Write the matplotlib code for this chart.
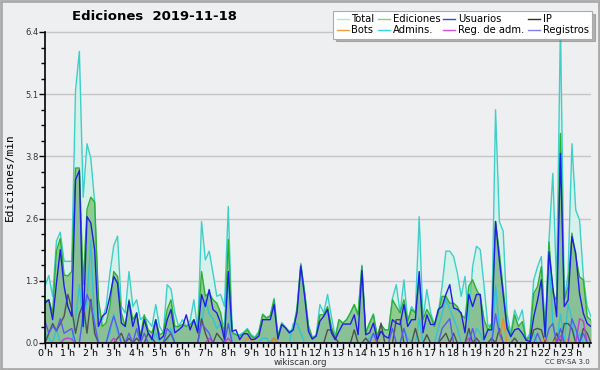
from matplotlib import pyplot as plt
from matplotlib.lines import Line2D
import numpy as np

# values per 10 minutes, 144 bins for the whole day (edits/min)
total = [1.17, 1.39, 0.96, 2.10, 2.28, 1.68, 1.68, 1.68, 5.20, 6.00, 3.00, 4.10,
         3.80, 2.90, 0.50, 0.48, 0.75, 1.44, 2.00, 2.20, 0.75, 0.62, 1.47, 0.75,
         0.89, 0.48, 0.55, 0.45, 0.34, 0.79, 0.34, 0.21, 1.20, 1.11, 0.62, 0.34,
         0.48, 0.34, 0.45, 0.89, 0.27, 2.50, 1.71, 1.89, 1.44, 0.96, 1.00, 0.75,
         2.81, 0.24, 0.17, 0.17, 0.22, 0.30, 0.17, 0.12, 0.24, 0.60, 0.52, 0.57,
         0.92, 0.16, 0.42, 0.33, 0.24, 0.30, 0.72, 1.64, 1.05, 0.36, 0.12, 0.16,
         0.79, 0.62, 1.00, 0.55, 0.14, 0.48, 0.41, 0.48, 0.62, 0.79, 0.58, 1.60,
         0.21, 0.41, 0.60, 0.14, 0.38, 0.27, 0.27, 0.92, 1.20, 0.62, 1.30, 0.45,
         0.75, 0.62, 2.60, 0.48, 1.10, 0.62, 0.38, 0.62, 1.17, 1.89, 1.89, 1.78,
         1.44, 0.96, 1.37, 0.48, 1.58, 1.99, 1.92, 1.17, 0.34, 0.40, 4.80, 2.50,
         2.30, 0.60, 0.20, 0.68, 0.47, 0.68, 0.06, 0.20, 1.30, 1.57, 1.78, 0.20,
         2.12, 3.49, 1.16, 6.60, 0.89, 1.43, 4.10, 2.74, 2.53, 1.36, 0.75, 0.54]

ediciones = [0.86, 0.89, 0.62, 1.90, 2.15, 1.40, 1.38, 1.47, 3.60, 3.60, 1.20, 2.75,
             3.00, 2.90, 0.90, 0.34, 0.41, 0.75, 1.47, 1.37, 0.62, 0.34, 0.89, 0.48,
             0.62, 0.14, 0.58, 0.27, 0.21, 0.48, 0.17, 0.21, 0.69, 0.89, 0.34, 0.34,
             0.38, 0.34, 0.38, 0.48, 0.27, 1.47, 0.96, 1.03, 0.89, 0.82, 0.62, 0.14,
             2.13, 0.21, 0.17, 0.14, 0.19, 0.27, 0.14, 0.10, 0.21, 0.58, 0.51, 0.55,
             0.89, 0.14, 0.39, 0.31, 0.21, 0.27, 0.69, 1.61, 1.03, 0.34, 0.10, 0.14,
             0.58, 0.58, 0.75, 0.34, 0.07, 0.48, 0.41, 0.48, 0.62, 0.79, 0.58, 1.58,
             0.21, 0.41, 0.58, 0.14, 0.38, 0.27, 0.27, 0.89, 0.75, 0.62, 0.89, 0.45,
             0.69, 0.62, 1.30, 0.48, 0.69, 0.55, 0.34, 0.62, 0.96, 0.96, 0.82, 0.82,
             0.75, 0.58, 0.51, 1.17, 1.30, 1.10, 0.96, 0.48, 0.27, 0.38, 2.50, 1.85,
             1.10, 0.40, 0.13, 0.58, 0.34, 0.44, 0.06, 0.13, 1.02, 1.16, 1.57, 0.20,
             2.08, 1.02, 0.88, 4.31, 0.88, 1.16, 2.26, 1.78, 1.36, 1.30, 0.54, 0.47]

usuarios = [0.82, 0.89, 0.48, 1.23, 1.92, 1.17, 0.75, 0.55, 3.36, 3.55, 0.34, 2.60,
            2.47, 1.92, 0.34, 0.55, 0.62, 0.96, 1.37, 1.23, 0.41, 0.34, 0.86, 0.34,
            0.62, 0.07, 0.48, 0.21, 0.07, 0.48, 0.07, 0.14, 0.48, 0.69, 0.21, 0.27,
            0.34, 0.58, 0.27, 0.48, 0.21, 1.00, 0.75, 1.10, 0.69, 0.62, 0.41, 0.07,
            1.47, 0.24, 0.27, 0.07, 0.19, 0.19, 0.07, 0.08, 0.14, 0.48, 0.48, 0.48,
            0.79, 0.08, 0.38, 0.31, 0.21, 0.27, 0.62, 1.58, 0.96, 0.24, 0.08, 0.14,
            0.45, 0.55, 0.69, 0.21, 0.07, 0.24, 0.39, 0.39, 0.39, 0.58, 0.17, 1.49,
            0.17, 0.21, 0.41, 0.07, 0.24, 0.14, 0.10, 0.48, 0.41, 0.38, 0.79, 0.34,
            0.48, 0.48, 1.47, 0.21, 0.58, 0.38, 0.38, 0.69, 0.75, 1.00, 1.20, 0.72,
            0.69, 0.62, 0.21, 1.00, 0.75, 1.00, 1.00, 0.07, 0.27, 0.27, 2.50, 1.70,
            1.00, 0.30, 0.13, 0.27, 0.30, 0.20, 0.06, 0.03, 0.54, 0.88, 1.30, 0.13,
            1.88, 1.16, 0.54, 3.90, 0.75, 0.88, 2.19, 1.85, 1.02, 0.61, 0.40, 0.34]

# sparse series: bin index -> value, zero elsewhere
ip_idx = [1, 2, 3, 4, 5, 6, 7, 8, 9, 10, 11, 12, 13, 19, 20, 22, 24, 27, 28, 32, 33, 41, 42,
          45, 46, 60, 74, 75, 76, 81, 84, 88, 92, 93, 97, 100, 104, 105, 107, 111, 113, 117,
          119, 123, 128, 129, 130, 134, 136, 137, 138, 141, 142]
ip_val = [0.2, 0.4, 0.25, 0.4, 0.55, 1.0, 0.7, 0.2, 0.6, 0.8, 0.2, 0.9, 0.2, 0.1, 0.2, 0.1, 0.1,
          0.2, 0.1, 0.1, 0.2, 0.5, 0.2, 0.2, 0.1, 0.1, 0.27, 0.27, 0.1, 0.27, 0.1, 0.41, 0.48,
          0.48, 0.3, 0.17, 0.1, 0.2, 0.2, 0.3, 0.1, 0.1, 0.3, 0.1, 0.27, 0.3, 0.27, 0.2, 0.4,
          0.4, 0.3, 0.3, 0.2]

admins_idx = [0, 1, 3, 8, 9, 10, 11, 12, 13, 17, 18, 19, 29, 33, 41, 42, 43, 44, 45, 46, 47, 48,
              57, 58, 65, 66, 67, 85, 86, 94, 95, 98, 103, 104, 105, 106, 107, 108, 111, 113,
              114, 118, 119, 128, 132, 133, 135, 137, 138, 140]
admins_val = [0.2, 0.1, 0.3, 0.5, 1.2, 0.3, 0.9, 2.1, 0.3, 0.2, 0.6, 0.2, 0.2, 0.3, 0.4, 0.9,
              0.6, 0.5, 0.3, 0.4, 0.4, 1.3, 0.1, 0.1, 0.4, 0.4, 0.2, 0.1, 0.2, 0.3, 0.1, 0.5,
              0.3, 0.6, 0.9, 0.7, 0.5, 0.3, 0.2, 0.3, 0.2, 1.2, 0.3, 0.2, 1.9, 0.4, 0.6, 0.8,
              0.5, 0.2]

registros_idx = [0, 1, 2, 3, 4, 5, 6, 7, 10, 11, 12, 13, 17, 18, 19, 22, 24, 26, 32, 33, 41, 42,
                 43, 48, 86, 91, 94, 104, 105, 106, 112, 118, 119, 129, 132, 133, 135, 138,
                 139, 141]
registros_val = [0.45, 0.2, 0.35, 0.25, 0.5, 0.2, 0.25, 0.3, 0.6, 1.0, 0.8, 0.4, 0.3, 0.55,
                 0.3, 0.2, 0.3, 0.2, 0.3, 0.2, 0.4, 0.3, 0.2, 0.4, 0.2, 0.3, 0.3, 0.3, 0.4,
                 0.5, 0.3, 0.6, 0.2, 0.2, 0.3, 0.4, 0.3, 0.5, 0.3, 0.2]

bots_idx = [53, 54, 60, 87, 120, 131, 134, 137]
bots_val = [0.1, 0.1, 0.1, 0.1, 0.5, 0.1, 0.1, 0.1]

regadm_idx = [5, 6, 7, 18, 43, 48, 111, 135, 140, 141]
regadm_val = [0.08, 0.1, 0.08, 0.1, 0.1, 0.1, 0.1, 0.15, 0.5, 0.45]

hour_labels = ['%d h' % h for h in range(24)]
ytick_vals = [0, 1.28, 2.56, 3.84, 5.12, 6.4]
ytick_labels = ['0.0', '1.3', '2.6', '3.8', '5.1', '6.4']


def sparse(idx, val, n=144):
    arr = np.zeros(n)
    arr[idx] = val
    return arr


bg = '#eeeff1'
x = np.arange(len(total))
ip = sparse(ip_idx, ip_val)
admins = sparse(admins_idx, admins_val)
registros = sparse(registros_idx, registros_val)
bots = sparse(bots_idx, bots_val)
regadm = sparse(regadm_idx, regadm_val)

plt.rcParams['font.family'] = ['DejaVu Sans']
fig = plt.figure(figsize=(6, 3.7), dpi=100, facecolor=bg)
ax = fig.add_axes([45 / 600, 1 - 343 / 370, 546 / 600, 338 / 370], facecolor=bg)

# filled areas
ax.fill_between(x, total, color='#d6f1ea', lw=0)
ax.fill_between(x, ediciones, color='#92cb92', lw=0)
ax.fill_between(x, usuarios, color='#5a7ab8', alpha=0.13, lw=0)

lw = 1.0
ax.plot(x, total, color='#3dd0c8', lw=lw)
ax.plot(x, ediciones, color='#2faf2f', lw=lw)
ax.plot(x, admins, color='#30c4d8', lw=lw)
ax.plot(x, ip, color='#505050', lw=lw)
ax.plot(x, bots, color='#f09020', lw=lw)
ax.plot(x, regadm, color='#c040d8', lw=lw)
ax.plot(x, registros, color='#5a5af0', lw=lw)
ax.plot(x, usuarios, color='#1e1ee6', lw=lw)

ax.set_xlim(0, 143)
ax.set_ylim(0, (343 - 5) / 48.6)
for s in ['top', 'right']:
    ax.spines[s].set_visible(False)
ax.spines['left'].set_bounds(0, 6.4)
ax.spines['left'].set_linewidth(1.2)
ax.spines['bottom'].set_linewidth(1.2)

ax.set_yticks(ytick_vals)
ax.set_yticklabels(ytick_labels, fontsize=6, color='#333333')
ax.set_yticks(np.arange(0, 6.41, 0.32), minor=True)
ax.set_xticks(np.arange(0, 144, 6))
ax.set_xticklabels(hour_labels, fontsize=6.8)
ax.set_xticks(np.arange(0, 144, 1.5), minor=True)
ax.tick_params(axis='both', which='major', length=4, width=1, pad=0.5)
ax.tick_params(axis='both', which='minor', length=3, width=1)
ax.yaxis.grid(True, which='major', color='#c6c6c6', lw=1)
ax.set_axisbelow(True)

ax.set_ylabel('Ediciones/min', fontsize=8, family='DejaVu Sans Mono')
ax.yaxis.set_label_coords(-0.056, 0.49)

fig.text(154 / 600, 1 - 16 / 370, 'Ediciones  2019-11-18', fontsize=9.5, fontweight='bold',
         ha='center', va='center')
fig.text(300 / 600, 1 - 362.5 / 370, 'wikiscan.org', fontsize=6.2, color='#333333',
         ha='center', va='center')
fig.text(590 / 600, 1 - 362.5 / 370, 'CC BY-SA 3.0', fontsize=5, color='#333333',
         ha='right', va='center')

handles = [Line2D([], [], color='#a8e8e0', lw=1), Line2D([], [], color='#f0a040', lw=1),
           Line2D([], [], color='#80d080', lw=1), Line2D([], [], color='#40d0e0', lw=1),
           Line2D([], [], color='#4040e0', lw=1), Line2D([], [], color='#d050e0', lw=1),
           Line2D([], [], color='#303030', lw=1), Line2D([], [], color='#8080f0', lw=1)]
labels = ['Total', 'Bots', 'Ediciones', 'Admins.', 'Usuarios', 'Reg. de adm.', 'IP', 'Registros']
leg = fig.legend(handles, labels, ncol=4, loc='upper right', bbox_to_anchor=(592 / 600, 1 - 11 / 370),
                 fontsize=7.2, frameon=True, fancybox=False, shadow={'color': '#777777'},
                 handlelength=1.2, handletextpad=0.3, columnspacing=0.3, labelspacing=0.05,
                 borderpad=0.35, borderaxespad=0)
leg.get_frame().set_edgecolor('#aaaaaa')
leg.get_frame().set_linewidth(0.8)

# outer grey border
fig.patches.append(plt.Rectangle((0.002, 0.003), 0.996, 0.994, transform=fig.transFigure,
                                 fill=False, edgecolor='#aaaaaa', lw=2))

plt.savefig('out.png', dpi=100, facecolor=bg)
